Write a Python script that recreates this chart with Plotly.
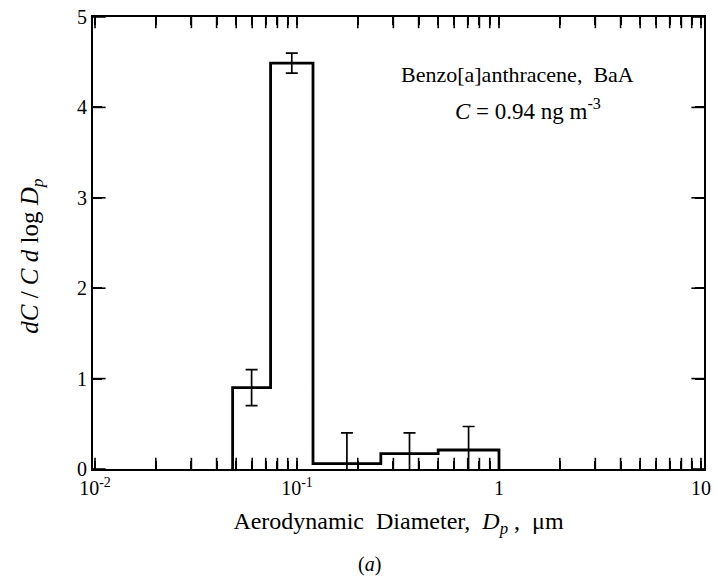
import numpy as np
import plotly.graph_objects as go

# Data
bin_edges = [0.048, 0.074, 0.12, 0.26, 0.5, 1.0]      # Dp (um)
bin_values = [0.90, 4.49, 0.06, 0.17, 0.21]           # dC / C dlogDp
bin_errors = [0.20, 0.11, 0.34, 0.23, 0.26]

x_major = [0.01, 0.1, 1, 10]
x_major_labels = ["10<sup>-2</sup>", "10<sup>-1</sup>", "1", "10"]
x_minor = [m * d for d in [0.01, 0.1, 1] for m in range(2, 10)]
y_ticks = [0, 1, 2, 3, 4, 5]

X_RANGE = [-2.01, 1.015]   # log10 units
Y_RANGE = [0, 5]

# step outline of the histogram
sx, sy = [bin_edges[0]], [0]
for i, v in enumerate(bin_values):
    sx += [bin_edges[i], bin_edges[i + 1]]
    sy += [v, v]
sx.append(bin_edges[-1])
sy.append(0)

mids = [np.sqrt(bin_edges[i] * bin_edges[i + 1]) for i in range(len(bin_values))]

xt_vals = x_major + x_minor
xt_text = x_major_labels + [""] * len(x_minor)

FONT = "Liberation Serif, Times New Roman, serif"

fig = go.Figure()
fig.add_trace(go.Scatter(x=sx, y=sy, mode="lines",
                         line=dict(color="black", width=2.8)))
fig.add_trace(go.Scatter(x=mids, y=bin_values, mode="markers",
                         marker=dict(size=1, color="rgba(0,0,0,0)"),
                         error_y=dict(type="data", array=bin_errors, visible=True,
                                      color="black", thickness=1.7, width=6)))

# tick marks drawn as clipped line markers along the frame (inside half only)
tick_mark = dict(color="black", width=1.6)
fig.add_trace(go.Scatter(x=xt_vals + xt_vals,
                         y=[Y_RANGE[0]] * len(xt_vals) + [Y_RANGE[1]] * len(xt_vals),
                         mode="markers", cliponaxis=True, hoverinfo="skip",
                         marker=dict(symbol="line-ns", size=16, line=tick_mark)))
x_left, x_right = 10 ** X_RANGE[0], 10 ** X_RANGE[1]
fig.add_trace(go.Scatter(x=[x_left] * len(y_ticks) + [x_right] * len(y_ticks),
                         y=y_ticks + y_ticks,
                         mode="markers", cliponaxis=True, hoverinfo="skip",
                         marker=dict(symbol="line-ew", size=18, line=tick_mark)))

fig.update_layout(
    template="none",
    width=717, height=577,
    margin=dict(l=93, r=6, t=15, b=108),
    font=dict(family=FONT, size=20, color="black"),
    showlegend=False,
    xaxis=dict(
        type="log", range=X_RANGE,
        tickmode="array", tickvals=xt_vals, ticktext=xt_text,
        ticks="inside", ticklen=8, tickwidth=1.6, tickcolor="black",
        showline=True, linecolor="black", linewidth=2, mirror="ticks",
        gridcolor="rgba(0,0,0,0)", automargin=True,
        tickfont=dict(size=20),
        title=dict(text="Aerodynamic  Diameter,  <i>D<sub>p</sub></i> ,  μm",
                   font=dict(size=24), standoff=14),
    ),
    yaxis=dict(
        range=Y_RANGE, tickmode="array", tickvals=y_ticks,
        ticks="inside", ticklen=9, tickwidth=1.6, tickcolor="black",
        showline=True, linecolor="black", linewidth=2, mirror="ticks",
        gridcolor="rgba(0,0,0,0)", zerolinecolor="black", automargin=True,
        tickfont=dict(size=20),
    ),
    annotations=[
        dict(text="<i>dC</i> / <i>C d</i> log <i>D<sub>p</sub></i>",
             xref="paper", yref="paper", x=-0.102, y=0.471,
             xanchor="center", yanchor="middle", textangle=-90,
             showarrow=False, font=dict(size=25)),
        dict(text="Benzo[a]anthracene,  BaA", xref="paper", yref="paper",
             x=0.694, y=0.872, xanchor="center", yanchor="middle",
             showarrow=False, font=dict(size=22)),
        dict(text="<i>C</i> = 0.94 ng m<sup>-3</sup>", xref="paper", yref="paper",
             x=0.712, y=0.795, xanchor="center", yanchor="middle",
             showarrow=False, font=dict(size=23)),
        dict(text="(<i>a</i>)", xref="paper", yref="paper",
             x=0.453, y=-0.211, xanchor="center", yanchor="middle",
             showarrow=False, font=dict(size=20)),
    ],
)

fig.write_html("out.html")
